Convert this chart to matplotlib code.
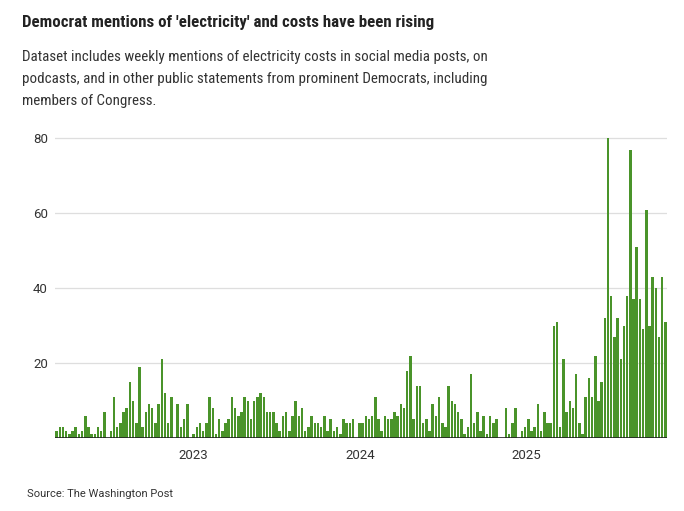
import numpy as np
import pandas as pd
import matplotlib
matplotlib.use("Agg")
import matplotlib.pyplot as plt
import matplotlib.dates as mdates

# weekly counts, first week of March 2022 to early November 2025
mentions = [
    2, 3, 3, 2, 1, 2, 3, 1, 2, 6, 3, 1, 1, 3, 2, 7, 0, 2, 11, 3,
    4, 7, 8, 15, 10, 4, 19, 3, 7, 9, 8, 4, 9, 21, 12, 4, 11, 0, 9, 3,
    5, 9, 0, 1, 3, 4, 2, 4, 11, 8, 1, 5, 2, 4, 5, 11, 8, 6, 7, 11,
    10, 5, 10, 11, 12, 11, 7, 7, 7, 4, 2, 6, 7, 2, 6, 10, 6, 8, 2, 3,
    6, 4, 4, 3, 6, 2, 5, 2, 3, 1, 5, 4, 4, 5, 0, 4, 4, 6, 5, 6,
    11, 5, 2, 6, 5, 5, 7, 6, 9, 8, 18, 22, 5, 14, 14, 4, 5, 2, 9, 6,
    11, 4, 3, 14, 10, 9, 7, 5, 1, 3, 17, 4, 7, 2, 6, 1, 6, 4, 5, 0,
    0, 8, 1, 4, 8, 0, 2, 3, 5, 2, 3, 9, 2, 7, 4, 4, 30, 31, 3, 21,
    7, 10, 8, 17, 4, 1, 11, 16, 11, 22, 10, 15, 32, 80, 38, 27, 32, 21, 30, 38,
    77, 37, 51, 37, 29, 61, 30, 43, 40, 27, 43, 31,
]
weeks = pd.date_range("2022-03-06", periods=len(mentions), freq="7D")

y_ticks = [20, 40, 60, 80]
title = "Democrat mentions of 'electricity' and costs have been rising"
subtitle = [
    "Dataset includes weekly mentions of electricity costs in social media posts, on",
    "podcasts, and in other public statements from prominent Democrats, including",
    "members of Congress.",
]
source = "Source: The Washington Post"

fig = plt.figure(figsize=(6.84, 5.11), dpi=100)
ax = fig.add_axes([55 / 684, 73 / 511, 612 / 684, 307 / 511])

ax.bar(weeks, mentions, width=5.4, color="#4a942a", linewidth=0, zorder=2)
ax.set_xlim(weeks[0] - pd.Timedelta(days=3.5), weeks[-1] + pd.Timedelta(days=3.5))
ax.set_ylim(0, 82)

ax.set_yticks(y_ticks)
ax.yaxis.grid(True, color="#dedede", linewidth=0.9, zorder=0)
ax.axhline(0, color="#222222", linewidth=1.2, zorder=3)
ax.xaxis.set_major_locator(mdates.YearLocator())
ax.xaxis.set_major_formatter(mdates.DateFormatter("%Y"))
ax.tick_params(axis="both", length=0, labelsize=9.5, colors="#333333")
ax.tick_params(axis="y", pad=5)
ax.tick_params(axis="x", pad=8)
for lab in ax.get_xticklabels() + ax.get_yticklabels():
    lab.set_fontfamily("Roboto")
for s in ax.spines.values():
    s.set_visible(False)

fig.text(22 / 684, 1 - 26.5 / 511, title, family="Roboto Condensed", weight="bold",
         fontsize=12.2, color="#222222", va="baseline")
for i, line in enumerate(subtitle):
    fig.text(22 / 684, 1 - (61.5 + 21.7 * i) / 511, line, family="Roboto Condensed",
             fontsize=10.8, color="#333333", va="baseline")
fig.text(27 / 684, 1 - 497 / 511, source, family="Roboto", fontsize=8,
         color="#333333", va="baseline")

fig.savefig("out.png", dpi=100)
